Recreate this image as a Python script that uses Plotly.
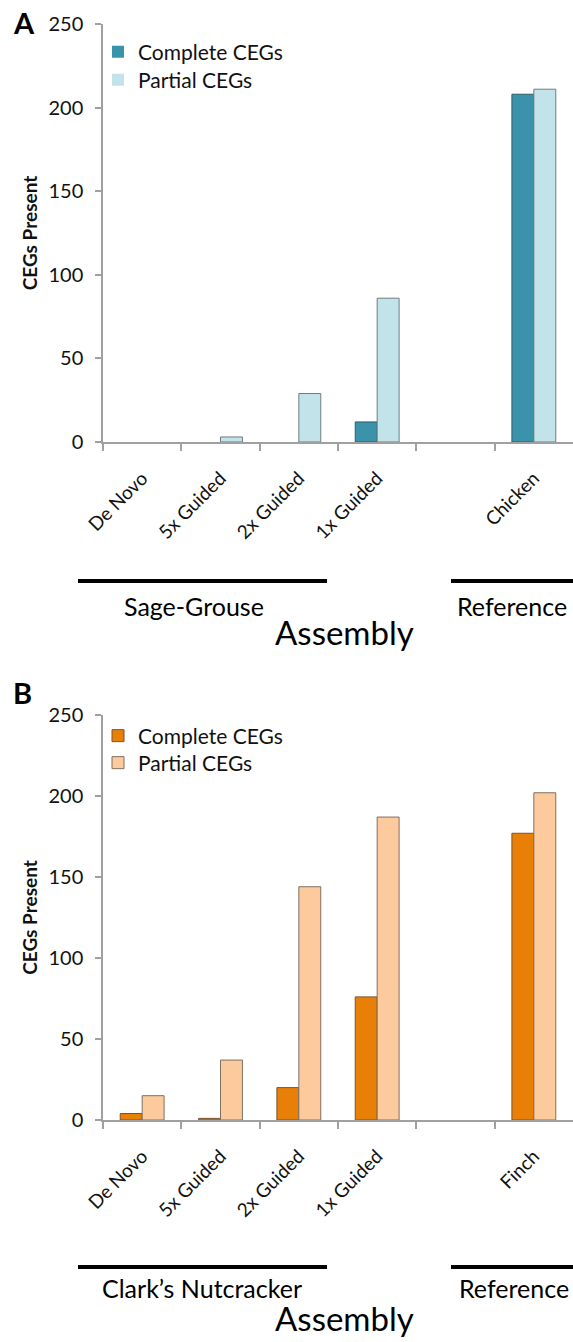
import plotly.graph_objects as go

# ---------------- data ----------------
categories_a = ["De Novo", "5x Guided", "2x Guided", "1x Guided", " ", "Chicken"]
complete_a = [0, 0, 0, 12, None, 208]
partial_a = [0, 3, 29, 86, None, 211]

categories_b = ["De Novo", "5x Guided", "2x Guided", "1x Guided", " ", "Finch"]
complete_b = [4, 1, 20, 76, None, 177]
partial_b = [15, 37, 144, 187, None, 202]

y_ticks = [0, 50, 100, 150, 200, 250]
series_names = ["Complete CEGs", "Partial CEGs"]
group_labels_a = ["Sage-Grouse", "Reference"]
group_labels_b = ["Clark\u2019s Nutcracker", "Reference"]

# ---------------- layout helpers ----------------
W, H = 573, 1342
FONT = "Lato"


def px(x):
    return x / W


def py(y):
    return 1 - y / H


AXIS_GREY = "#A0A0A0"


def outline_widths(values):
    # hide the outline of empty (zero-height) bars
    return [0 if (v is None or v == 0) else 1 for v in values]


fig = go.Figure()

fig.add_trace(go.Bar(x=categories_a, y=complete_a, name=series_names[0],
                     marker=dict(color="#3A93AA",
                                 line=dict(color="#2F5E6B", width=outline_widths(complete_a))),
                     xaxis="x", yaxis="y", legend="legend"))
fig.add_trace(go.Bar(x=categories_a, y=partial_a, name=series_names[1],
                     marker=dict(color="#C3E3EB",
                                 line=dict(color="#6F7C80", width=outline_widths(partial_a))),
                     xaxis="x", yaxis="y", legend="legend2"))
fig.add_trace(go.Bar(x=categories_b, y=complete_b, name=series_names[0],
                     marker=dict(color="#E87F06",
                                 line=dict(color="#7A5530", width=outline_widths(complete_b))),
                     xaxis="x2", yaxis="y2", legend="legend3"))
fig.add_trace(go.Bar(x=categories_b, y=partial_b, name=series_names[1],
                     marker=dict(color="#FDCA9E",
                                 line=dict(color="#807060", width=outline_widths(partial_b))),
                     xaxis="x2", yaxis="y2", legend="legend4"))


def xaxis_cfg(anchor):
    return dict(type="category", domain=[px(103), 1.0], anchor=anchor,
                automargin=False,
                range=[-0.5, 5.5], tickson="boundaries", ticks="outside",
                ticklen=7, tickwidth=1.5, tickcolor=AXIS_GREY,
                showline=True, linecolor=AXIS_GREY, linewidth=1.5,
                showgrid=False, zeroline=False, tickangle=-45,
                ticklabelstandoff=16,
                tickfont=dict(family=FONT, size=19, color="#111"))


def yaxis_cfg(dom, anchor):
    return dict(domain=dom, anchor=anchor, range=[0, 250], tickvals=y_ticks,
                automargin=False,
                ticks="outside", ticklen=6, tickwidth=1.5, tickcolor=AXIS_GREY,
                showline=True, linecolor=AXIS_GREY, linewidth=1.5,
                showgrid=False, zeroline=False, ticklabelstandoff=8,
                tickfont=dict(family=FONT, size=20, color="#111"),
                title=dict(text="<b>CEGs Present</b>", standoff=6,
                           font=dict(family=FONT, size=19, color="#111")))


def legend_cfg(x, y):
    return dict(x=px(x), y=py(y), xanchor="left", yanchor="middle",
                bgcolor="rgba(0,0,0,0)", borderwidth=0,
                font=dict(family=FONT, size=21, color="#111"),
                itemwidth=30)


shapes = []
annotations = []


def bracket(x0, x1, y):
    shapes.append(dict(type="line", xref="paper", yref="paper",
                       x0=px(x0), x1=px(x1), y0=py(y), y1=py(y),
                       line=dict(color="black", width=4)))


def label(text, x, y, size, bold=False):
    annotations.append(dict(text=f"<b>{text}</b>" if bold else text,
                            xref="paper", yref="paper", x=px(x), y=py(y),
                            xanchor="center", yanchor="middle", showarrow=False,
                            font=dict(family=FONT, size=size, color="black")))


# panel A extras
label("A", 24, 23, 29, bold=True)
bracket(78, 327, 581)
bracket(451, 573, 581)
label(group_labels_a[0], 194, 606, 25)
label(group_labels_a[1], 512, 606, 25)
label("Assembly", 344, 632, 33)

# panel B extras
label("B", 22, 692, 29, bold=True)
bracket(78, 327, 1267)
bracket(451, 573, 1267)
label(group_labels_b[0], 202, 1288, 25)
label(group_labels_b[1], 514, 1288, 25)
label("Assembly", 344, 1318, 33)

fig.update_layout(
    template="none",
    width=W, height=H, margin=dict(l=0, r=0, t=0, b=0, pad=0),
    paper_bgcolor="white", plot_bgcolor="white",
    barmode="group", bargap=0.44, bargroupgap=0,
    showlegend=True,
    xaxis=xaxis_cfg("y"), yaxis=yaxis_cfg([py(442), py(24)], "x"),
    xaxis2=xaxis_cfg("y2"), yaxis2=yaxis_cfg([py(1120), py(715)], "x2"),
    legend=legend_cfg(98, 52), legend2=legend_cfg(98, 80),
    legend3=legend_cfg(98, 736), legend4=legend_cfg(98, 763),
    shapes=shapes, annotations=annotations,
)

fig.write_html("out.html")
